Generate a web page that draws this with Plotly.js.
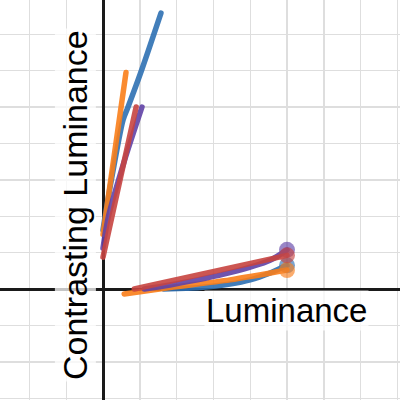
<!DOCTYPE html>
<html>
<head>
<meta charset="utf-8">
<script src="https://cdn.plot.ly/plotly-3.0.1.min.js"></script>
<style>
  html, body { margin: 0; padding: 0; background: #fff; }
  #chart { width: 400px; height: 400px; }
</style>
</head>
<body>
<div id="chart"></div>
<script>
// Axis titles
const xTitle = "Luminance";
const yTitle = "Contrasting Luminance";

// Series colours (Desmos palette)
const seriesNames = ["blue", "orange", "purple", "red"];
const seriesColors = ["#2d70b3", "#fa7e19", "#6042a6", "#c74440"];

// Grid values
const minorGridX = [-0.4, -0.2, 0, 0.2, 0.4, 0.6, 0.8, 1.0, 1.2, 1.4, 1.6];
const minorGridY = [-0.6, -0.4, -0.2, 0, 0.2, 0.4, 0.6, 0.8, 1.0, 1.2, 1.4];
const majorGrid = [1];

// Upper branch
const blueUpperL   = [0, 0.011, 0.06, 0.109, 0.136, 0.212, 0.315];
const blueUpperC   = [0.324, 0.396, 0.68, 0.929, 1.0, 1.209, 1.516];
const orangeUpperL = [0, 0.125];
const orangeUpperC = [0.30, 1.19];
const purpleUpperL = [0, 0.03, 0.115, 0.212];
const purpleUpperC = [0.225, 0.40, 0.70, 1.0];
const redUpperL    = [0, 0.18];
const redUpperC    = [0.175, 1.0];

// Lower branch (ends with a point at luminance 1)
const blueLowerL   = [0.33, 0.45, 0.527, 0.69, 0.8, 0.908, 1.0];
const blueLowerC   = [0, 0.004, 0.008, 0.027, 0.05, 0.088, 0.13];
const orangeLowerL = [0.115, 0.364, 0.69, 1.0];
const orangeLowerC = [-0.027, 0.008, 0.05, 0.104];
const purpleLowerL = [0.225, 0.364, 0.69, 0.908, 1.0];
const purpleLowerC = [0, 0.022, 0.09, 0.158, 0.215];
const redLowerL    = [0.17, 1.0];
const redLowerC    = [0, 0.185];

const upper = {
  blue:   [blueUpperL, blueUpperC],
  orange: [orangeUpperL, orangeUpperC],
  purple: [purpleUpperL, purpleUpperC],
  red:    [redUpperL, redUpperC]
};
const lower = {
  blue:   [blueLowerL, blueLowerC],
  orange: [orangeLowerL, orangeLowerC],
  purple: [purpleLowerL, purpleLowerC],
  red:    [redLowerL, redLowerC]
};

const drawOrder = ["blue", "orange", "purple", "red"];
const traces = [];
drawOrder.forEach(name => {
  const col = seriesColors[seriesNames.indexOf(name)];
  const u = upper[name];
  traces.push({
    x: u[0], y: u[1], type: "scatter", mode: "lines",
    line: { color: col, width: 5.5, shape: u[0].length > 2 ? "spline" : "linear", smoothing: 0.8 },
    opacity: 0.9, hoverinfo: "skip", showlegend: false
  });
});
drawOrder.forEach(name => {
  const col = seriesColors[seriesNames.indexOf(name)];
  const l = lower[name];
  const sizes = l[0].map((v, i) => i === l[0].length - 1 ? 16 : 0);
  traces.push({
    x: l[0], y: l[1], type: "scatter", mode: "lines+markers",
    line: { color: col, width: 5.5, shape: l[0].length > 2 ? "spline" : "linear", smoothing: 0.8 },
    marker: { color: col, size: sizes, line: { width: 0 } },
    opacity: 0.9, hoverinfo: "skip", showlegend: false
  });
});

const axisCommon = {
  showticklabels: false, ticks: "", showline: false,
  showgrid: true, tickmode: "array", gridcolor: "#dedede", gridwidth: 1.4,
  zeroline: true, zerolinecolor: "#1a1a1a", zerolinewidth: 3,
  fixedrange: true
};

const shapes = [];
majorGrid.forEach(v => {
  shapes.push({ type: "line", layer: "below", xref: "x", yref: "paper", x0: v, x1: v, y0: 0, y1: 1,
                line: { color: "#8f8f8f", width: 1.4 } });
  shapes.push({ type: "line", layer: "below", xref: "paper", yref: "y", x0: 0, x1: 1, y0: v, y1: v,
                line: { color: "#8f8f8f", width: 1.4 } });
});

const layout = {
  width: 400, height: 400,
  margin: { l: 0, r: 0, t: 0, b: 0, pad: 0 },
  paper_bgcolor: "#ffffff", plot_bgcolor: "#ffffff",
  showlegend: false,
  xaxis: Object.assign({}, axisCommon, { range: [-0.5598, 1.6141], tickvals: minorGridX }),
  yaxis: Object.assign({}, axisCommon, { range: [-0.6099, 1.5879], tickvals: minorGridY }),
  font: { family: "Liberation Sans, Arial, sans-serif", color: "#000" },
  shapes: shapes,
  annotations: [
    { text: xTitle, xref: "paper", yref: "paper", x: 0.715, y: 0.225,
      xanchor: "center", yanchor: "middle", showarrow: false,
      font: { family: "Liberation Sans, Arial, sans-serif", size: 33, color: "#000" },
      bgcolor: "rgba(255,255,255,0.75)" },
    { text: yTitle, xref: "paper", yref: "paper", x: 0.188, y: 0.488,
      xanchor: "center", yanchor: "middle", textangle: -90, showarrow: false,
      font: { family: "Liberation Sans, Arial, sans-serif", size: 34, color: "#000" },
      bgcolor: "rgba(255,255,255,0.75)" }
  ]
};

Plotly.newPlot("chart", traces, layout, { staticPlot: true, displayModeBar: false }).then(gd => {
  gd.querySelectorAll(".scatterlayer path.js-line").forEach(p => {
    p.style.strokeLinecap = "round";
    p.style.strokeLinejoin = "round";
  });
});
</script>
</body>
</html>
